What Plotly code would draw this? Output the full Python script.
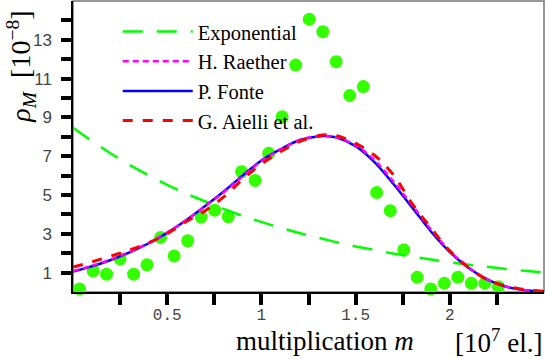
import plotly.graph_objects as go

# ---- data ----
m_curve = [0.0, 0.1, 0.2, 0.3, 0.4, 0.5, 0.6, 0.7, 0.8, 0.9, 1.0, 1.1, 1.2, 1.3, 1.35,
           1.4, 1.5, 1.6, 1.7, 1.8, 1.9, 2.0, 2.1, 2.2, 2.3, 2.4, 2.5]
exponential = [8.47, 7.78, 7.14, 6.55, 6.02, 5.52, 5.07, 4.66, 4.28, 3.92, 3.60, 3.31, 3.04,
               2.79, 2.67, 2.56, 2.35, 2.16, 1.98, 1.82, 1.67, 1.53, 1.41, 1.29, 1.19, 1.09, 1.00]
raether = [1.08, 1.35, 1.68, 2.06, 2.52, 3.07, 3.70, 4.40, 5.14, 5.95, 6.75, 7.33, 7.82,
           8.02, 8.04, 7.98, 7.56, 6.80, 5.70, 4.48, 3.22, 2.12, 1.27, 0.65, 0.28, 0.10, 0.03]
fonte = [1.05, 1.32, 1.65, 2.04, 2.50, 3.05, 3.70, 4.42, 5.18, 6.00, 6.78, 7.35, 7.82,
         8.02, 8.03, 7.96, 7.52, 6.70, 5.58, 4.36, 3.12, 2.06, 1.24, 0.64, 0.27, 0.09, 0.03]
aielli = [1.28, 1.55, 1.85, 2.17, 2.53, 3.00, 3.62, 4.18, 4.90, 5.80, 6.60, 7.22, 7.75,
          8.05, 8.10, 8.06, 7.66, 7.05, 6.05, 4.55, 3.30, 2.12, 1.26, 0.62, 0.30, 0.12, 0.04]

m_meas = [0.035, 0.107, 0.178, 0.250, 0.322, 0.393, 0.465, 0.537, 0.609, 0.680, 0.752,
          0.824, 0.895, 0.967, 1.039, 1.110, 1.182, 1.254, 1.326, 1.397, 1.469, 1.541,
          1.612, 1.684, 1.756, 1.827, 1.899, 1.971, 2.043, 2.114, 2.186, 2.258]
rho_meas = [0.16, 1.09, 0.92, 1.71, 0.92, 1.40, 2.81, 1.86, 2.64, 3.86, 4.22, 3.88,
            6.20, 5.75, 7.15, 9.03, 11.70, 14.06, 13.42, 11.87, 10.13, 10.59, 5.13,
            4.19, 2.17, 0.76, 0.16, 0.45, 0.76, 0.45, 0.45, 0.27]

x_ticks = [0.25, 0.5, 0.75, 1.0, 1.25, 1.5, 1.75, 2.0, 2.25]
x_ticktext = ["", "0.5", "", "1", "", "1.5", "", "2", ""]
y_ticks = list(range(1, 15))
y_ticktext = [str(v) if v % 2 == 1 else "" for v in y_ticks]

serif = "Liberation Serif"

fig = go.Figure()
fig.add_trace(go.Scatter(x=m_meas, y=rho_meas, mode="markers", showlegend=False,
                         marker=dict(color="#33ff00", size=13), cliponaxis=False))
fig.add_trace(go.Scatter(x=m_curve, y=exponential, mode="lines", name="Exponential",
                         legendrank=1,
                         line=dict(color="#00ff00", width=2.5, dash="20px,14px")))
fig.add_trace(go.Scatter(x=m_curve, y=fonte, mode="lines", name="P. Fonte",
                         legendrank=3, line_shape="spline",
                         line=dict(color="#0000ff", width=2.5)))
fig.add_trace(go.Scatter(x=m_curve, y=raether, mode="lines", name="H. Raether",
                         legendrank=2, line_shape="spline",
                         line=dict(color="#ff00ff", width=2.5, dash="6px,4px")))
fig.add_trace(go.Scatter(x=m_curve, y=aielli, mode="lines", name="G. Aielli et al.",
                         legendrank=4, line_shape="spline",
                         line=dict(color="#ff0000", width=3, dash="10px,10px")))

fig.update_layout(
    width=546, height=359,
    margin=dict(l=73, r=2, t=1, b=67),
    paper_bgcolor="white", plot_bgcolor="white",
    showlegend=True,
    legend=dict(x=0.095, y=0.963, xanchor="left", yanchor="top",
                bgcolor="rgba(0,0,0,0)", itemwidth=70,
                font=dict(family=serif, size=20.5, color="black")),
    xaxis=dict(range=[0, 2.5], tickvals=x_ticks, ticktext=x_ticktext,
               ticks="outside", ticklen=11, tickwidth=4, tickcolor="black",
               showline=True, linecolor="black", linewidth=1.5, showgrid=False,
               zeroline=False, ticklabelstandoff=-4,
               tickfont=dict(family="Liberation Mono", size=16, color="#444")),
    xaxis2=dict(range=[0, 2.5], overlaying="x", anchor="y", side="bottom",
                tickvals=x_ticks, ticktext=[""] * len(x_ticks),
                ticks="inside", ticklen=6, tickwidth=4, tickcolor="black",
                showline=False, showgrid=False, zeroline=False),
    yaxis=dict(range=[0, 15], tickvals=y_ticks, ticktext=y_ticktext,
               ticks="outside", ticklen=10, tickwidth=4, tickcolor="black",
               showline=True, linecolor="black", linewidth=1.5, showgrid=False,
               zeroline=False, ticklabelstandoff=6,
               tickfont=dict(family="Liberation Sans", size=17, color="#444")),
    yaxis2=dict(range=[0, 15], overlaying="y", anchor="x", side="left",
                tickvals=y_ticks, ticktext=[""] * len(y_ticks),
                ticks="inside", ticklen=7, tickwidth=4, tickcolor="black",
                showline=False, showgrid=False, zeroline=False),
    shapes=[dict(type="rect", xref="paper", yref="paper", x0=0, x1=1, y0=0, y1=1,
                 line=dict(color="#777", width=1.5), layer="below")],
    annotations=[
        dict(text="<i>ρ</i><sub><i>M</i></sub>  [10<sup>−8</sup>]", textangle=-90,
             xref="paper", yref="paper", x=-0.11, y=0.775, xanchor="center",
             yanchor="middle", showarrow=False,
             font=dict(family=serif, size=28, color="black")),
        dict(text="multiplication <i>m</i>", xref="paper", yref="paper",
             x=0.535, y=-0.17, xanchor="center", yanchor="middle", showarrow=False,
             font=dict(family=serif, size=27, color="black")),
        dict(text="[10<sup>7</sup> el.]", xref="paper", yref="paper",
             x=1.0, y=-0.17, xanchor="right", yanchor="middle", showarrow=False,
             font=dict(family=serif, size=27, color="black")),
    ],
)

fig.write_html("out.html", post_script="document.body.style.margin='0';",
               config={"displayModeBar": False})
